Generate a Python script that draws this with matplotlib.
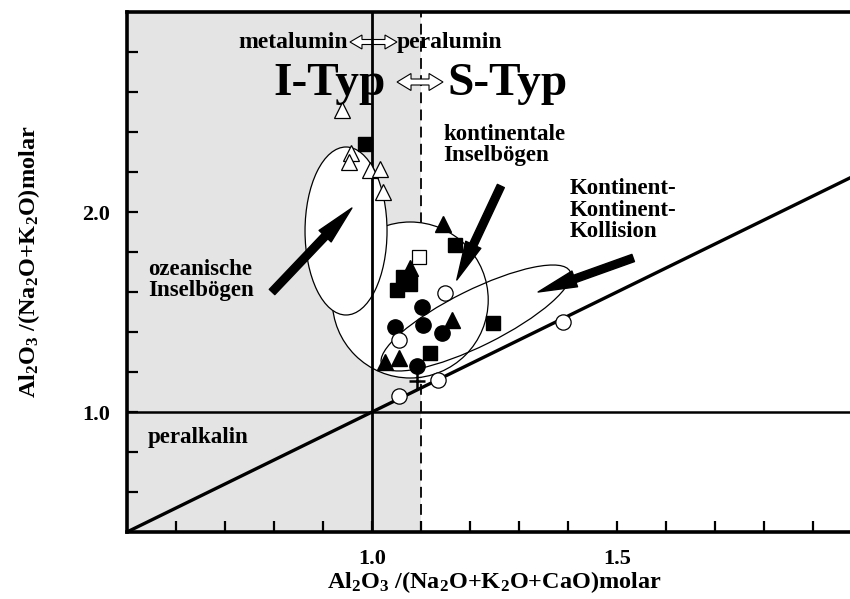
import numpy as np
import matplotlib
matplotlib.use("Agg")
import matplotlib.pyplot as plt
from matplotlib.patches import Ellipse, Polygon
from matplotlib import transforms

plt.rcParams['font.family'] = 'Liberation Serif'
plt.rcParams['font.weight'] = 'bold'
plt.rcParams['axes.labelweight'] = 'bold'
plt.rcParams['mathtext.fontset'] = 'custom'
plt.rcParams['mathtext.rm'] = 'Liberation Serif:bold'
plt.rcParams['mathtext.it'] = 'Liberation Serif:bold'
plt.rcParams['mathtext.bf'] = 'Liberation Serif:bold'

# --- data (A/CNK, A/NK) ---
open_tri_x = [0.939, 0.957, 0.953, 0.996, 1.016, 1.022]
open_tri_y = [2.51, 2.295, 2.25, 2.21, 2.215, 2.10]

fill_sq_x = [0.986, 1.169, 1.063, 1.078, 1.051, 1.247, 1.118]
fill_sq_y = [2.34, 1.835, 1.675, 1.64, 1.61, 1.445, 1.295]

fill_tri_x = [1.145, 1.078, 1.163, 1.027, 1.055]
fill_tri_y = [1.94, 1.72, 1.46, 1.25, 1.27]

fill_circ_x = [1.102, 1.047, 1.104, 1.143, 1.092]
fill_circ_y = [1.525, 1.425, 1.435, 1.395, 1.23]

open_circ_x = [1.149, 1.055, 1.135, 1.055, 1.39]
open_circ_y = [1.595, 1.36, 1.16, 1.08, 1.45]

open_sq_x = [1.096]
open_sq_y = [1.775]

plus_x = [1.092]
plus_y = [1.155]

# boundary line
diag_x = [0.5, 2.0]
diag_y = [0.4, 2.2]

xticks = np.round(np.arange(0.6, 2.0, 0.1), 1)
xtick_labels = {1.0: '1.0', 1.5: '1.5'}
yticks = np.round(np.arange(0.6, 3.0, 0.2), 1)
ytick_labels = {1.0: '1.0', 2.0: '2.0'}

fig = plt.figure(figsize=(8.5, 5.99), dpi=100)
ax = fig.add_axes([127/850, 67/599, 735/850, 520/599])
ax.set_xlim(0.5, 2.0)
ax.set_ylim(0.4, 3.0)

# fields
ax.axvspan(0.5, 1.1, color='#e4e4e4', zorder=0, lw=0)
ax.axvline(1.1, color='k', lw=1.3, ls=(0, (6, 3.5)), zorder=1)
ax.axvline(1.0, color='k', lw=2.0, zorder=3)
ax.axhline(1.0, color='k', lw=1.8, zorder=3)
ax.plot(diag_x, diag_y, color='k', lw=2.4, zorder=3, solid_capstyle='butt')


def at(x, y):
    # place inch-sized shapes at a data position
    return fig.dpi_scale_trans + transforms.ScaledTranslation(x, y, ax.transData)


# regions (sizes in inches)
ax.add_patch(Ellipse((0, 0), 1.56, 1.56, transform=at(1.078, 1.56),
                     fc='white', ec='k', lw=0.9, zorder=2))
ax.add_patch(Ellipse((0, 0), 0.82, 1.68, transform=at(0.947, 1.905),
                     fc='white', ec='k', lw=0.9, zorder=2.1))
ax.add_patch(Ellipse((0, 0), 2.10, 0.56, angle=26.4, transform=at(1.212, 1.47),
                     fc='none', ec='k', lw=0.9, zorder=2.2))


def dbl_arrow(x, y, length, head_len, head_h, shaft_h):
    h = length / 2 / 100
    a = head_len / 100
    t = head_h / 2 / 100
    s = shaft_h / 2 / 100
    verts = [(-h, 0), (-h + a, t), (-h + a, s), (h - a, s), (h - a, t), (h, 0),
             (h - a, -t), (h - a, -s), (-h + a, -s), (-h + a, -t)]
    ax.add_patch(Polygon(verts, closed=True, transform=at(x, y),
                         fc='white', ec='k', lw=0.8, zorder=2.5))


dbl_arrow(1.003, 2.85, 47, 12, 14, 5)
dbl_arrow(1.098, 2.65, 46, 14, 17, 6)

# data points
ms = 11
ax.plot(open_tri_x, open_tri_y, ls='none', marker='^', ms=ms, mfc='white', mec='k', mew=0.9, zorder=5)
ax.plot(fill_sq_x, fill_sq_y, ls='none', marker='s', ms=10, mfc='k', mec='k', zorder=5)
ax.plot(fill_tri_x, fill_tri_y, ls='none', marker='^', ms=ms, mfc='k', mec='k', zorder=5)
ax.plot(fill_circ_x, fill_circ_y, ls='none', marker='o', ms=ms, mfc='k', mec='k', zorder=5)
ax.plot(open_circ_x, open_circ_y, ls='none', marker='o', ms=ms, mfc='white', mec='k', mew=0.9, zorder=5)
ax.plot(open_sq_x, open_sq_y, ls='none', marker='s', ms=10, mfc='white', mec='k', mew=0.9, zorder=5)
ax.plot(plus_x, plus_y, ls='none', marker='+', ms=11, mec='k', mew=1.8, zorder=4)

# black arrows
arr = dict(facecolor='k', edgecolor='k', width=5.5, headwidth=12, headlength=28, shrink=0)
ax.annotate('', xy=(0.959, 2.02), xytext=(0.796, 1.60), arrowprops=arr, zorder=6)
ax.annotate('', xy=(1.173, 1.66), xytext=(1.263, 2.13), arrowprops=arr, zorder=6)
ax.annotate('', xy=(1.339, 1.60), xytext=(1.533, 1.77), arrowprops=arr, zorder=6)

# labels in the field
ax.text(0.951, 2.85, 'metalumin', fontsize=17, ha='right', va='center', zorder=4)
ax.text(1.051, 2.85, 'peralumin', fontsize=17, ha='left', va='center', zorder=4)
ax.text(0.914, 2.585, 'I-Typ', fontsize=34, ha='center', va='baseline', zorder=2.6)
ax.text(1.276, 2.585, 'S-Typ', fontsize=34, ha='center', va='baseline', zorder=2.6)
ax.text(1.145, 2.335, 'kontinentale\nInselbögen', fontsize=16.5, ha='left', va='center',
        linespacing=1.0, zorder=4)
ax.text(1.404, 2.01, 'Kontinent-\nKontinent-\nKollision', fontsize=16.5, ha='left', va='center',
        linespacing=1.05, zorder=4)
ax.text(0.543, 1.66, 'ozeanische\nInselbögen', fontsize=16.5, ha='left', va='center',
        linespacing=1.0, zorder=4)
ax.text(0.543, 0.875, 'peralkalin', fontsize=16.5, ha='left', va='center', zorder=4)

# axes styling
for side in ['left', 'bottom', 'top', 'right']:
    ax.spines[side].set_linewidth(2.6)
ax.set_xticks(xticks)
ax.set_xticklabels([xtick_labels.get(t, '') for t in xticks])
ax.set_yticks(yticks)
ax.set_yticklabels([ytick_labels.get(t, '') for t in yticks])
ax.tick_params(direction='in', length=8, width=1.6, labelsize=16, pad=12)

ax.set_xlabel(r'Al$_2$O$_3$ /(Na$_2$O+K$_2$O+CaO)molar', fontsize=17.5)
ax.xaxis.set_label_coords(0.5, -0.072)
ax.set_ylabel(r'Al$_2$O$_3$ /(Na$_2$O+K$_2$O)molar', fontsize=17.5)
ax.yaxis.set_label_coords(-0.116, 0.52)

fig.savefig('out.png', dpi=100)
